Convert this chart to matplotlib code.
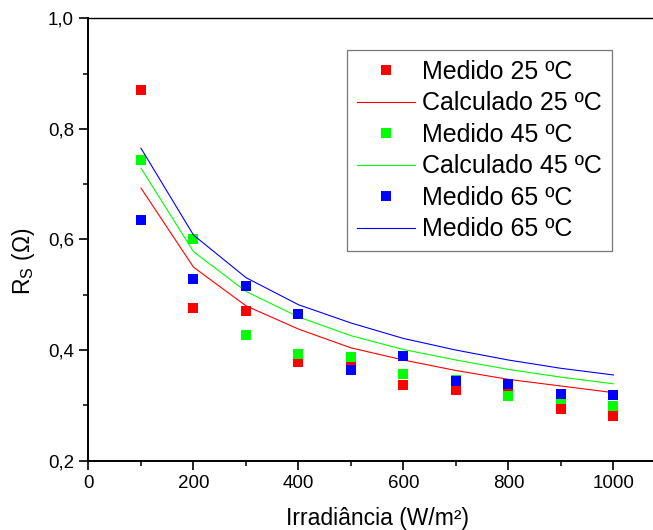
import numpy as np
import matplotlib
matplotlib.use('Agg')
import matplotlib.pyplot as plt
from matplotlib.ticker import MultipleLocator, FuncFormatter

plt.rcParams['font.family'] = ['Liberation Sans', 'DejaVu Sans']

# irradiance levels (W/m2)
irr = [100, 200, 300, 400, 500, 600, 700, 800, 900, 1000]

# measured Rs
med_25 = [0.870, 0.476, 0.471, 0.379, 0.376, 0.336, 0.328, 0.328, 0.294, 0.280]
med_45 = [0.744, 0.601, 0.427, 0.393, 0.388, 0.357, 0.345, 0.317, 0.311, 0.299]
med_65 = [0.635, 0.528, 0.515, 0.465, 0.364, 0.389, 0.344, 0.339, 0.321, 0.318]

# calculated Rs
calc_25 = [0.693, 0.550, 0.480, 0.438, 0.404, 0.382, 0.363, 0.347, 0.335, 0.323]
calc_45 = [0.729, 0.578, 0.506, 0.460, 0.426, 0.401, 0.382, 0.365, 0.351, 0.339]
calc_65 = [0.765, 0.608, 0.531, 0.482, 0.449, 0.421, 0.400, 0.382, 0.367, 0.355]

labels = ['Medido 25 ºC', 'Calculado 25 ºC', 'Medido 45 ºC',
          'Calculado 45 ºC', 'Medido 65 ºC', 'Medido 65 ºC']

fig = plt.figure(figsize=(6.53, 5.30), dpi=100)
ax = fig.add_axes([0.1355, 0.1308, 0.8844, 0.8347])

ms = 7.2
ax.plot(irr, med_25, 's', color='#ff0000', ms=ms, mew=0, label=labels[0])
ax.plot(irr, calc_25, '-', color='#ff0000', lw=0.8, label=labels[1])
ax.plot(irr, med_45, 's', color='#00ff00', ms=ms, mew=0, label=labels[2])
ax.plot(irr, calc_45, '-', color='#00ff00', lw=0.8, label=labels[3])
ax.plot(irr, med_65, 's', color='#0000ff', ms=ms, mew=0, label=labels[4])
ax.plot(irr, calc_65, '-', color='#0000ff', lw=0.8, label=labels[5])

ax.set_xlim(0, 1100)
ax.set_ylim(0.2, 1.0)
ax.xaxis.set_major_locator(MultipleLocator(200))
ax.xaxis.set_minor_locator(MultipleLocator(100))
ax.yaxis.set_major_locator(MultipleLocator(0.2))
ax.yaxis.set_minor_locator(MultipleLocator(0.1))
ax.yaxis.set_major_formatter(FuncFormatter(lambda v, p: ('%.1f' % v).replace('.', ',')))

for s in ax.spines.values():
    s.set_linewidth(1.4)
ax.spines['top'].set_linewidth(1.0)

ax.tick_params(which='major', direction='out', length=6.5, width=1.2, labelsize=13.5, pad=4)
ax.tick_params(which='minor', direction='out', length=3.6, width=1.1)
ax.tick_params(which='both', top=False, right=False)

ax.set_xlabel('Irradiância (W/m²)', fontsize=16.5, labelpad=10.5)
ax.set_ylabel('R$_\\mathregular{S}$ (Ω)', fontsize=16.5)
ax.yaxis.set_label_coords(-0.089, 0.451)

leg = ax.legend(loc='upper left', bbox_to_anchor=(0.5314, 0.9057),
                bbox_transform=fig.transFigure, borderaxespad=0,
                fontsize=18, frameon=True, fancybox=False,
                handlelength=2.3, handletextpad=0.3, labelspacing=0.3,
                borderpad=0.4, numpoints=1)
leg.get_frame().set_edgecolor('#555555')
leg.get_frame().set_linewidth(0.9)

fig.savefig('out.png', dpi=100)
